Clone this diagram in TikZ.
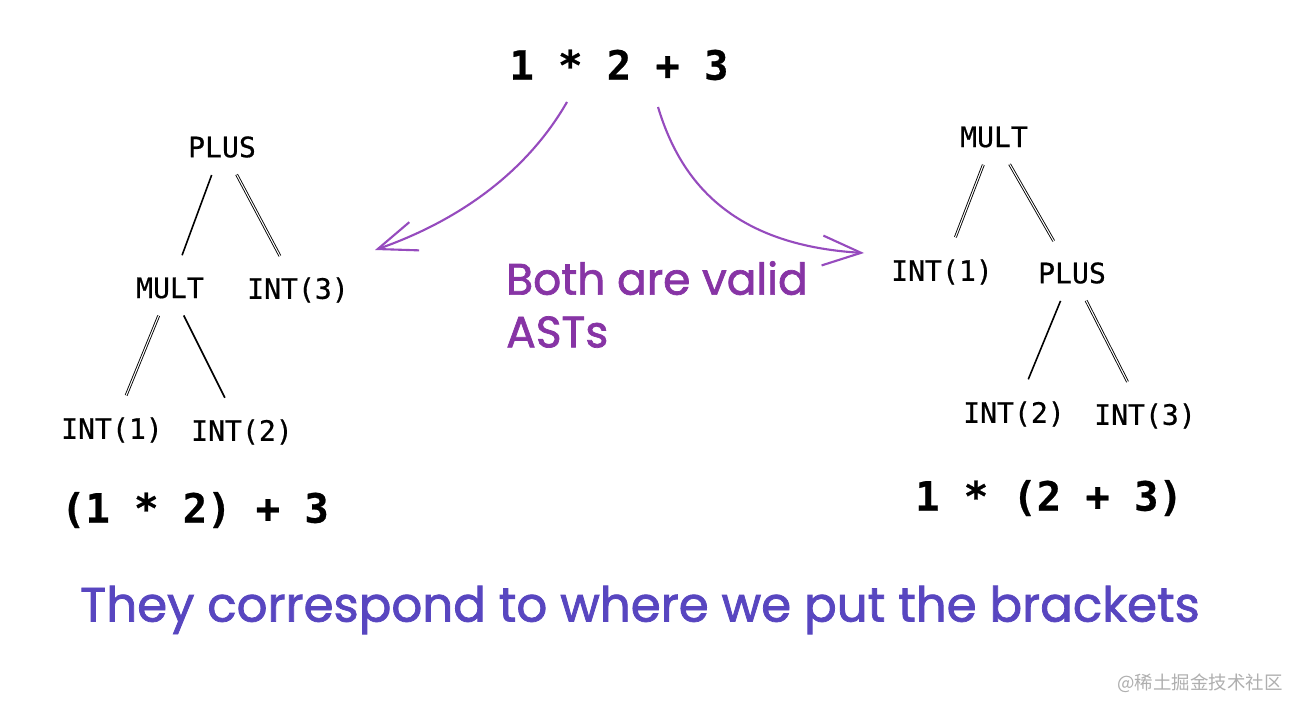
\documentclass[tikz,border=0pt]{standalone}
\usepackage{fontspec}
\setmonofont{DejaVu Sans Mono}[FakeBold=0.6]
\newfontfamily\handfont{Poppins}[FakeBold=1.6]
\newfontfamily\cjkfont{Noto Sans CJK SC}
\definecolor{arrowpurple}{RGB}{150,75,190}
\definecolor{notepurple}{RGB}{135,52,165}
\definecolor{noteblue}{RGB}{88,70,192}
\definecolor{markgray}{RGB}{175,175,175}
\usetikzlibrary{arrows.meta,positioning}

\begin{document}
\begin{tikzpicture}[x=0.02cm,y=-0.02cm,
    ast/.style={font=\ttfamily\fontsize{16}{18}\selectfont,inner sep=5pt},
    expr/.style={font=\ttfamily\bfseries\fontsize{23}{26}\selectfont},
    edge/.style={black,line width=0.9pt,shorten <=5pt,shorten >=8pt},
    twoline/.style={edge,double,double distance=0.6pt,line width=0.5pt},
    curvearrow/.style={arrowpurple,line width=1.2pt,-{Straight Barb[length=22pt,width=17pt]}}]
        \fill[white] (0,0) rectangle (1300,713);
        \useasboundingbox (0,0) rectangle (1300,713);
        % expression on top
        \node[expr] (top) at (619,65) {1 * 2 + 3};
        % left tree: (1 * 2) + 3
        \node[ast] (lplus) at (222,147) {PLUS};
        \node[ast] (lmult) at (170,288) {MULT};
        \node[ast] (lint3) at (298,290) {INT(3)};
        \node[ast] (lint1) at (112,430) {INT(1)};
        \node[ast] (lint2) at (242,432) {INT(2)};
        \node[expr] (lexpr) at (195,510) {(1 * 2) + 3};
        \draw[edge] (lplus) -- (lmult);
        \draw[twoline] (lplus) -- (lint3);
        \draw[twoline] (lmult) -- (lint1);
        \draw[edge] (lmult) -- (lint2);
        % right tree: 1 * (2 + 3)
        \node[ast] (rmult) at (994,137) {MULT};
        \node[ast] (rint1) at (942,272) {INT(1)};
        \node[ast] (rplus) at (1072,273) {PLUS};
        \node[ast] (rint2) at (1014,414) {INT(2)};
        \node[ast] (rint3) at (1145,416) {INT(3)};
        \node[expr] (rexpr) at (1049,498) {1 * (2 + 3)};
        \draw[twoline] (rmult) -- (rint1);
        \draw[twoline] (rmult) -- (rplus);
        \draw[edge] (rplus) -- (rint2);
        \draw[twoline] (rplus) -- (rint3);
        % arrows from the expression
        \coordinate (lfrom) at (567,102);
        \coordinate (lto) at (375,250);
        \coordinate (rfrom) at (658,107);
        \coordinate (rto) at (864,253);
        \draw[curvearrow] (lfrom) .. controls (525,175) and (455,222) .. (lto);
        \draw[curvearrow] (rfrom) .. controls (680,180) and (730,245) .. (rto);
        % notes
        \node[notepurple,font=\handfont\fontsize{25}{30}\selectfont,align=left,anchor=north west]
            (note) at (500,255) {Both are valid\\ASTs};
        \node[noteblue,font=\handfont\fontsize{27.5}{30}\selectfont] (bottom) at (640,610)
            {They correspond to where we put the brackets};
        \node[markgray,font=\cjkfont\fontsize{10.5}{12}\selectfont] (mark) at (1200,683)
            {@稀土掘金技术社区};
      \end{tikzpicture}
\end{document}
